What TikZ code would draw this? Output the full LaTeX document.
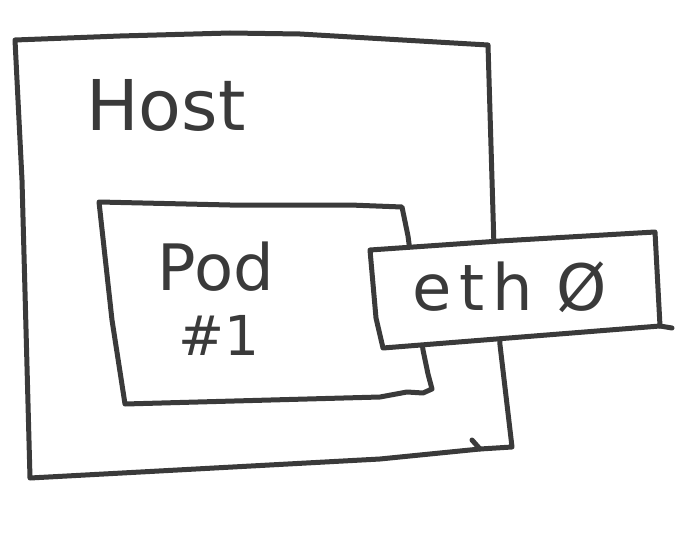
\documentclass[tikz,border=0pt]{standalone}
\usepackage{fontspec}
\setmainfont{DejaVu Sans}
\newfontfamily\ethfont[LetterSpace=12]{DejaVu Sans}
\usepackage{xcolor}
\definecolor{pencil}{HTML}{3A3A3A}

\begin{document}
\begin{tikzpicture}[x=1pt,y=-1pt
                    ]
                % define styles
\tikzset{sketch/.style={draw=pencil,
                       line width=5pt,
                       line join=round,
                       line cap=round,
                       },
         handtext/.style={text=pencil,
                       inner sep=0,
                       anchor=base,
                       }
}

\useasboundingbox (0,0) rectangle (696,535);

% host box
\path[sketch]
    (15.0000,40.0000) -- (120.0000,36.0000) -- (230.0000,33.0000) --
    (300.0000,34.0000) -- (488.0000,45.0000) -- (494.0000,247.0000) --
    (500.0000,345.0000) -- (512.0000,447.0000) -- (480.0000,449.0000) --
    (380.0000,459.0000) -- (30.0000,478.0000) -- (22.0000,180.0000) --
    cycle;
\path[sketch] (472.0000,440.0000) -- (480.0000,449.0000);

% pod box
\path[sketch]
    (99.0000,202.0000) -- (230.0000,205.0000) -- (350.0000,205.0000) --
    (402.0000,207.0000) -- (408.0000,236.0000) -- (423.0000,350.0000) --
    (428.0000,374.0000) -- (432.0000,389.0000) -- (423.0000,393.0000) --
    (407.0000,392.0000) -- (380.0000,397.0000) -- (125.0000,404.0000) --
    (112.0000,320.0000) -- cycle;

% eth0 box, drawn over the others
\path[sketch,fill=white]
    (370.0000,250.0000) -- (500.0000,241.0000) -- (655.0000,232.0000) --
    (660.0000,326.0000) -- (383.0000,348.0000) -- (376.0000,318.0000) --
    cycle;
\path[sketch] (660.0000,326.0000) -- (672.0000,328.0000);

% labels
\node[handtext,font=\fontsize{70}{84}\selectfont]  (host)   at (166,130) {Host};
\node[handtext,font=\fontsize{64}{76}\selectfont]  (pod)    at (216,290) {Pod};
\node[handtext,font=\fontsize{55}{66}\selectfont]  (podnum) at (219,355) {\#1};
\node[handtext,font=\fontsize{64}{76}\ethfont]     (eth)    at (510,310) {eth\hspace{24pt}Ø};

\end{tikzpicture}
\end{document}
